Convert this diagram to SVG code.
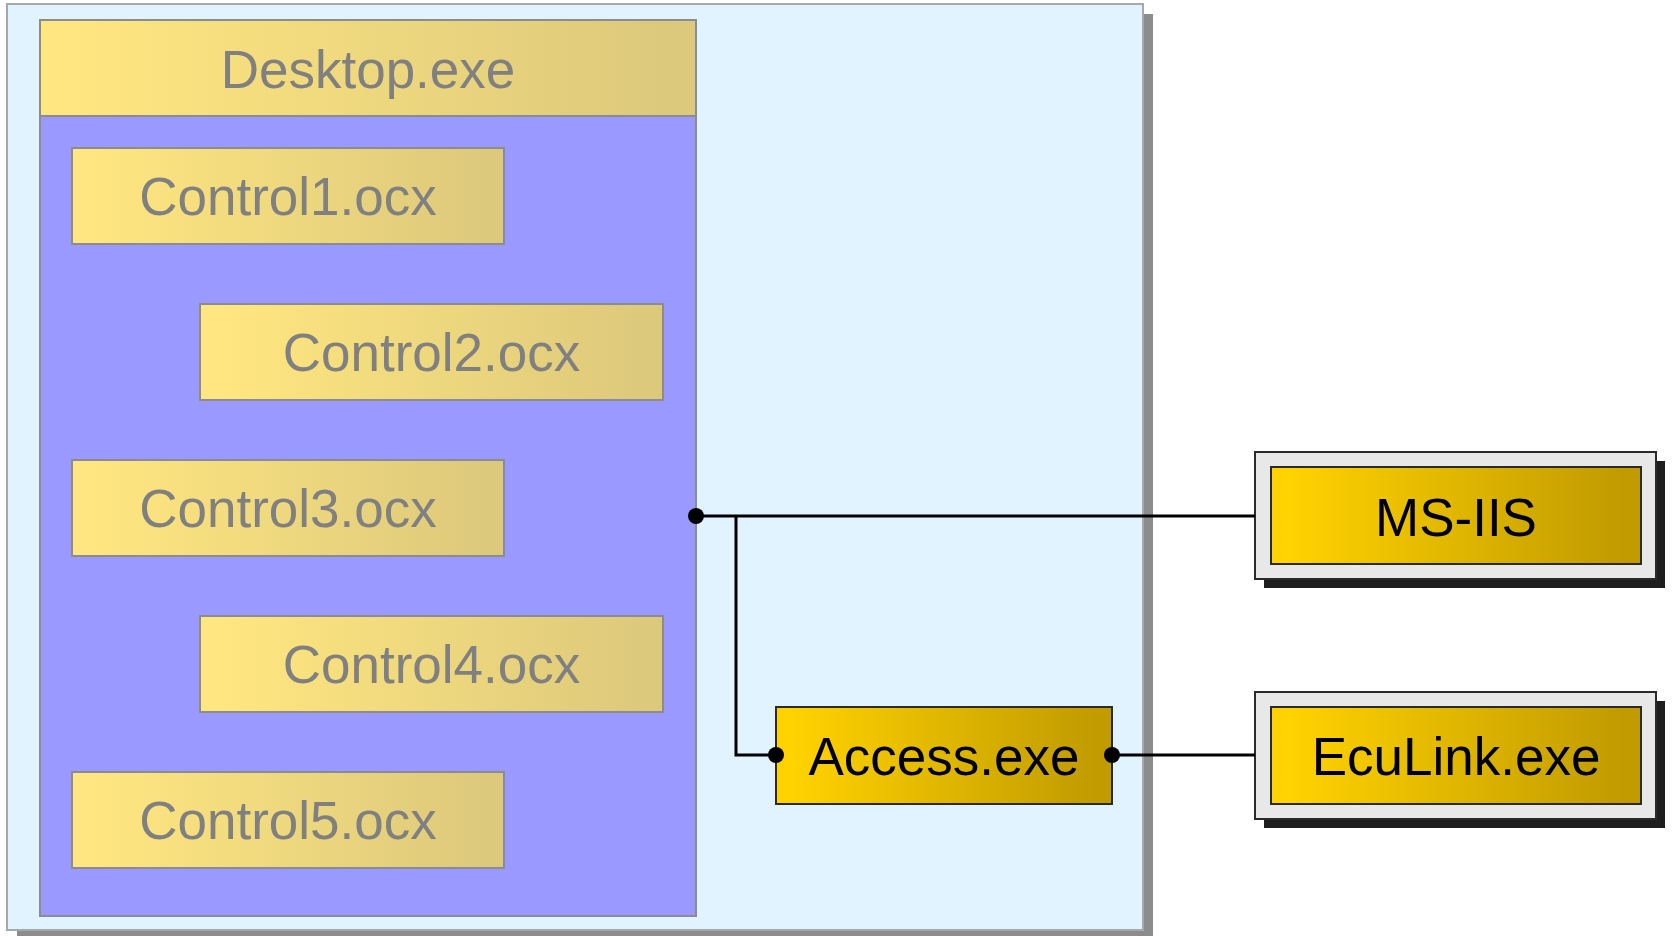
<svg xmlns="http://www.w3.org/2000/svg" width="1673" height="936" viewBox="0 0 1673 936">
<defs>
<linearGradient id="gLight" x1="0" y1="0" x2="1" y2="0">
<stop offset="0.05" stop-color="#FFE680"/>
<stop offset="0.95" stop-color="#DDC97C"/>
</linearGradient>
<linearGradient id="gGold" x1="0" y1="0" x2="1" y2="0">
<stop offset="0.05" stop-color="#FFD200"/>
<stop offset="0.95" stop-color="#C19B00"/>
</linearGradient>
<style>
.ctl{fill:url(#gLight);stroke:#8C8C8C;stroke-width:2}
.gold{fill:url(#gGold);stroke:#2A2A2A;stroke-width:2}
.frame{fill:#E8E8E8;stroke:#2A2A2A;stroke-width:2}
.shadow{fill:#1E1E1E}
.lt{font-family:"Liberation Sans",Arial,sans-serif;font-size:53px;fill:#808080;text-anchor:middle}
.dk{font-family:"Liberation Sans",Arial,sans-serif;font-size:53px;fill:#000000;text-anchor:middle}
.wire{fill:none;stroke:#000;stroke-width:3}
</style>
</defs>
<rect width="1673" height="936" fill="#FFFFFF"/>
<g id="container">
<rect x="17" y="14" width="1136" height="926" fill="#8C8C8C"/>
<rect x="7" y="4" width="1136" height="926" fill="#E1F3FF" stroke="#A8A8A8" stroke-width="2"/>
</g>
<g id="desktop">
<rect x="40" y="116" width="656" height="800" fill="#9999FF" stroke="#8C8C8C" stroke-width="2"/>
<rect x="40" y="20" width="656" height="96" class="ctl"/>
<text x="368" y="88" class="lt">Desktop.exe</text>
</g>
<g id="control1">
<rect x="72" y="148" width="432" height="96" class="ctl"/>
<text x="288" y="215" class="lt">Control1.ocx</text>
</g>
<g id="control2">
<rect x="200" y="304" width="463" height="96" class="ctl"/>
<text x="431.5" y="371" class="lt">Control2.ocx</text>
</g>
<g id="control3">
<rect x="72" y="460" width="432" height="96" class="ctl"/>
<text x="288" y="527" class="lt">Control3.ocx</text>
</g>
<g id="control4">
<rect x="200" y="616" width="463" height="96" class="ctl"/>
<text x="431.5" y="683" class="lt">Control4.ocx</text>
</g>
<g id="control5">
<rect x="72" y="772" width="432" height="96" class="ctl"/>
<text x="288" y="839" class="lt">Control5.ocx</text>
</g>
<g id="access">
<rect x="776" y="707" width="336" height="97" class="gold"/>
<text x="944" y="775" class="dk">Access.exe</text>
</g>
<g id="msiis">
<rect x="1264" y="461" width="401" height="127" class="shadow"/>
<rect x="1255" y="452" width="401" height="127" class="frame"/>
<rect x="1271" y="467" width="370" height="97" class="gold"/>
<text x="1456" y="536" class="dk">MS-IIS</text>
</g>
<g id="eculink">
<rect x="1264" y="701" width="401" height="127" class="shadow"/>
<rect x="1255" y="692" width="401" height="127" class="frame"/>
<rect x="1271" y="707" width="370" height="97" class="gold"/>
<text x="1456" y="775" class="dk">EcuLink.exe</text>
</g>
<g id="connectors">
<path class="wire" d="M696 516 H1255"/>
<path class="wire" d="M736 516 V755 H776"/>
<path class="wire" d="M1112 755 H1255"/>
<circle cx="696" cy="516" r="8" fill="#000"/>
<circle cx="776" cy="755" r="8" fill="#000"/>
<circle cx="1112" cy="755" r="8" fill="#000"/>
</g>
</svg>
